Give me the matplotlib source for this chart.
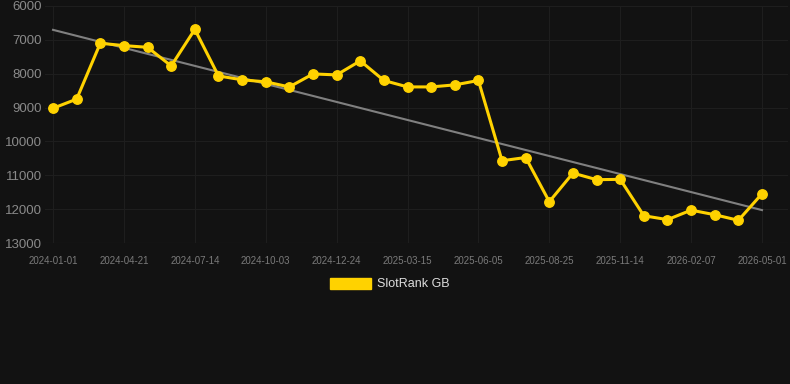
import numpy as np
import matplotlib
matplotlib.use("Agg")
import matplotlib.pyplot as plt
from matplotlib.patches import Patch

# SlotRank GB, one point roughly every 27 days (categorical x axis)
rank = [9020, 8750, 7100, 7170, 7220, 7770, 6690, 8065, 8180, 8240,
        8390, 8006, 8035, 7620, 8200, 8390, 8390, 8330, 8200, 10570,
        10475, 11780, 10935, 11130, 11120, 12195, 12310, 12030, 12165, 12330,
        11545]
tick_labels = ["2024-01-01", "2024-04-21", "2024-07-14", "2024-10-03", "2024-12-24",
               "2025-03-15", "2025-06-05", "2025-08-25", "2025-11-14", "2026-02-07",
               "2026-05-01"]
y_ticks = [6000, 7000, 8000, 9000, 10000, 11000, 12000, 13000]

bg = "#121212"
gold = "#FFD200"

x = np.arange(len(rank))
slope, intercept = np.polyfit(x, rank, 1)
trend = slope * x + intercept

fig = plt.figure(figsize=(7.9, 3.84), dpi=100, facecolor=bg)
ax = fig.add_axes([45 / 790, 1 - 243 / 384, 743 / 790, 237 / 384], facecolor=bg)

ax.plot(x, trend, color="#808080", linewidth=1.5, zorder=2)
ax.plot(x, rank, color=gold, linewidth=2.2, marker="o", markersize=6.8, zorder=3)

ax.set_ylim(13000, 6000)
ax.set_xlim(-0.34, 31.1)
ax.set_yticks(y_ticks)
ax.set_xticks(x[::3])
ax.set_xticklabels(tick_labels)

ax.grid(True, color="#1e1e1e", linewidth=0.8)
ax.axhline(13000, color="#2a2a2a", linewidth=0.8, zorder=1)
ax.set_axisbelow(True)
for s in ax.spines.values():
    s.set_visible(False)
ax.tick_params(axis="y", length=0, pad=2, labelsize=9.5, labelcolor="#8a8a8a")
ax.tick_params(axis="x", length=0, pad=9, labelsize=7, labelcolor="#7a7a7a")
for lab in ax.get_xticklabels() + ax.get_yticklabels():
    lab.set_fontfamily("Liberation Sans")

leg = fig.legend(handles=[Patch(facecolor=gold, edgecolor=gold, label="SlotRank GB")],
                 loc="center", bbox_to_anchor=(390 / 790, 1 - 284 / 384),
                 frameon=False, handlelength=3.3, handleheight=1.0,
                 handletextpad=0.5, prop={"family": "Liberation Sans", "size": 9})
for t in leg.get_texts():
    t.set_color("#dddddd")

fig.savefig("out.png", dpi=100, facecolor=bg)
